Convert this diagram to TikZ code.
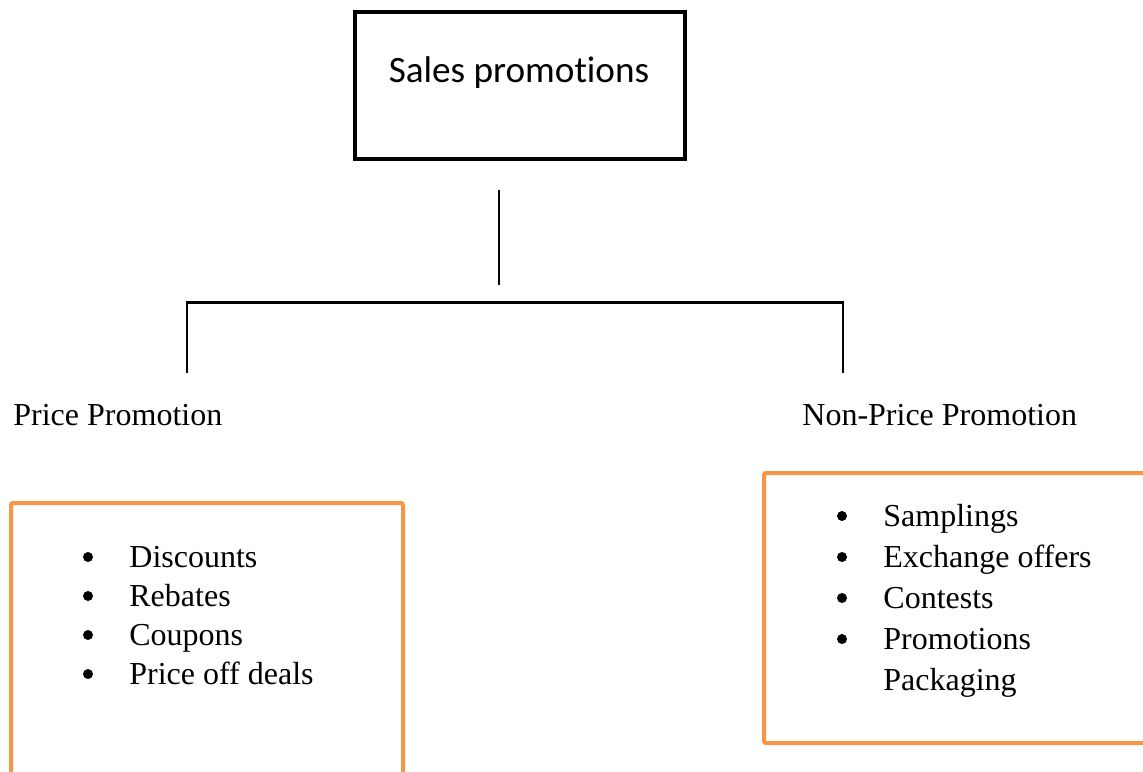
\documentclass[tikz,border=0pt]{standalone}
\usepackage{fontspec}
\setmainfont{Liberation Serif}
\newfontfamily\carlito[Ligatures=NoCommon]{Carlito}
\definecolor{boxorange}{RGB}{247,150,70}
\begin{document}
\begin{tikzpicture}[x=0.5pt,y=-0.5pt,
		txt/.style={inner sep=0pt,anchor=base west,font=\fontsize{16}{20.5}\selectfont},
		bul/.style={circle,fill=black,inner sep=0pt,minimum size=5pt},
		orangebox/.style={draw=boxorange,line width=2pt,rounded corners=1pt,inner sep=0pt}]
		\useasboundingbox (0,0) rectangle (1143,771);
		\node[draw,line width=2.25pt,minimum width=165pt,minimum height=73.5pt,inner sep=0pt] (sales) at (520,85.5) {};
		\node[inner sep=0pt,anchor=base,font=\carlito\fontsize{18.6}{22}\selectfont] (salestext) at (519,82) {Sales promotions};
		\coordinate (stemtop) at (499,190);
		\coordinate (stembot) at (499,285);
		\coordinate (forkL) at (187,302.5);
		\coordinate (forkR) at (843,302.5);
		\coordinate (dropL) at (187,373);
		\coordinate (dropR) at (843,373);
		\draw[line width=1pt] (stemtop)--(stembot);
		\draw[line width=1.3pt] (dropL)--(forkL)--(forkR)--(dropR);
		\node[txt] (price) at (13,425) {Price Promotion};
		\node[txt] (nonprice) at (802,425) {Non-Price Promotion};
		\node[orangebox,minimum width=196pt,minimum height=150pt] (pricebox) at (207,653) {};
		\node[orangebox,minimum width=199.5pt,minimum height=135pt] (nonpricebox) at (963.5,608) {};
		\foreach \entry [count=\i] in {Discounts,Rebates,Coupons,Price off deals} {
			\node[bul] (pb\i) at (88,{518+39*\i}) {};
			\node[txt] (pt\i) at (129,{528+39*\i}) {\entry};
		}
		\foreach \entry [count=\i] in {Samplings,Exchange offers,Contests,Promotions} {
			\node[bul] (nb\i) at (842,{475+41*\i}) {};
			\node[txt] (nt\i) at (883,{485+41*\i}) {\entry};
		}
		\node[txt] (nt5) at (883,690) {Packaging};
	    \end{tikzpicture}
\end{document}
